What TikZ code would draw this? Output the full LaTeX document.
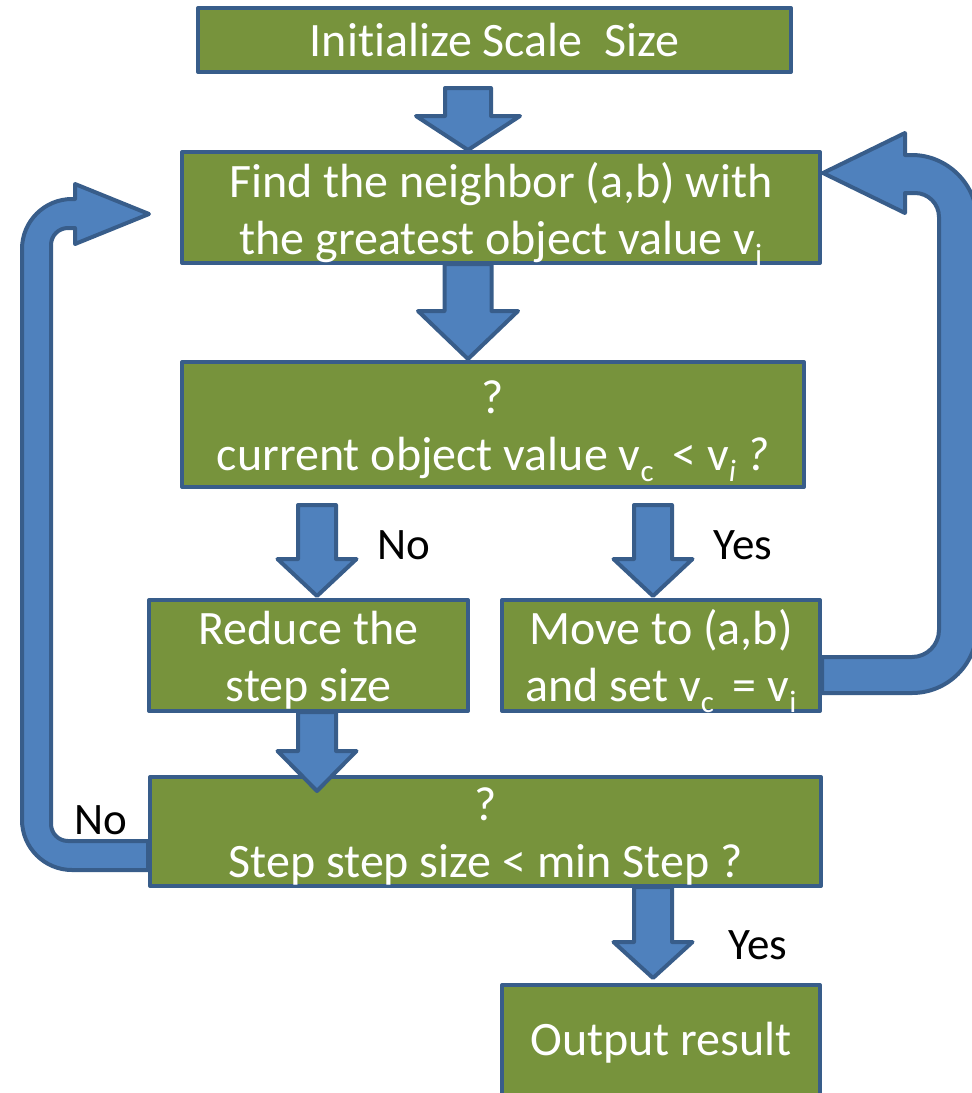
\documentclass[tikz,border=0pt]{standalone}
\usepackage{fontspec}
\setmainfont{Carlito}[Ligatures=NoCommon]
\usetikzlibrary{calc}
\definecolor{boxgreen}{HTML}{77933C}
\definecolor{edgeblue}{HTML}{385D8A}
\definecolor{arrowblue}{HTML}{4F81BD}
\newcommand\sbs[1]{\raisebox{-11pt}[0pt][0pt]{\fontsize{31}{31}\selectfont #1}}
\newcommand\dn[1]{\raisebox{-5pt}[\height][\depth]{#1}}
% block arrow pointing down: #1 top point, #2 tip point, #3 half shaft, #4 half head, #5 head length
\newcommand\blockdown[5]{%
  \path[blockarrow] let \p1=#1, \p2=#2 in
    (\x1-#3pt,\y1) -- (\x1+#3pt,\y1) -- (\x1+#3pt,\y2+#5pt) -- (\x1+#4pt,\y2+#5pt)
    -- (\x1,\y2) -- (\x1-#4pt,\y2+#5pt) -- (\x1-#3pt,\y2+#5pt) -- cycle;}
\begin{document}
\begin{tikzpicture}[x=1pt,y=-1pt,
  box/.style={draw=edgeblue, fill=boxgreen, line width=4pt, line join=round,
    text=white, align=center, inner sep=0pt,
    font=\fontsize{48}{57}\selectfont},
  blockarrow/.style={draw=edgeblue, fill=arrowblue, line width=4pt, line join=round},
  lab/.style={font=\fontsize{45}{57}\selectfont, text=black, inner sep=0pt}]
\useasboundingbox (0,0) rectangle (972,1093);

% boxes
\node[box, minimum width=593pt, minimum height=64pt] (b1) at (494.5,40) {Initialize Scale\ \ Size};
\node[box, minimum width=638pt, minimum height=111pt] (b2) at (501,207.5)
  {\dn{Find the neighbor (a,b) with}\\\dn{the greatest object value v\sbs{i}}};
\node[box, minimum width=622pt, minimum height=125pt] (b3) at (493,424.5)
  {\dn{?}\\\dn{current object value v\sbs{c} \,< v\sbs{\itshape i} \textit{?}}};
\node[box, minimum width=319pt, minimum height=111pt] (b4) at (308.5,655.5)
  {\dn{Reduce the}\\\dn{step size}};
\node[box, minimum width=318pt, minimum height=111pt] (b5) at (661,655.5)
  {Move to (a,b)\\and set v\sbs{c} \,= v\sbs{i}};
\node[box, minimum width=671pt, minimum height=109pt] (b6) at (485.5,831.5)
  {\dn{?}\\\dn{Step step size < min Step ?}};
\node[box, minimum width=318pt, minimum height=116pt] (b7) at (661,1043) {Output result};

% arrow end points
\coordinate (a1s) at (468,88);   \coordinate (a1e) at (468,150);
\coordinate (a2s) at (468,264);  \coordinate (a2e) at (468,359);
\coordinate (a3s) at (317,505);  \coordinate (a3e) at (317,596);
\coordinate (a4s) at (653,505);  \coordinate (a4e) at (653,596);
\coordinate (a5s) at (317,712);  \coordinate (a5e) at (317,791);
\coordinate (a6s) at (653,887);  \coordinate (a6e) at (653,978);

\blockdown{(a1s)}{(a1e)}{23}{52}{34}
\blockdown{(a2s)}{(a2e)}{23.5}{50}{48}
\blockdown{(a3s)}{(a3e)}{19}{39.5}{37}
\blockdown{(a4s)}{(a4e)}{19}{39.5}{37}
\blockdown{(a5s)}{(a5e)}{19}{39.5}{40}
\blockdown{(a6s)}{(a6e)}{19}{39.5}{36}

% left loop: b6 -> b2
\path[blockarrow] (b6.west |- 0,841) -- (68,841)
  .. controls (58.6,841) and (51,833.4) .. (51,824)
  -- (51,245)
  .. controls (51,235.6) and (58.6,228) .. (68,228)
  -- (75,228) -- (75,244) -- (149,214) -- (75,184) -- (75,199) -- (72,199)
  .. controls (44.4,199) and (22,221.4) .. (22,249)
  -- (22,820)
  .. controls (22,847.6) and (44.4,870) .. (72,870)
  -- (b6.west |- 0,870) -- cycle;

% right loop: b5 -> b2
\path[blockarrow] (b5.east |- 0,657) -- (912,657)
  .. controls (926.9,657) and (939,644.9) .. (939,630)
  -- (939,217)
  .. controls (939,203.8) and (928.2,193) .. (915,193)
  -- (905,193) -- (905,213) -- (823,173) -- (905,133) -- (905,155) -- (912,155)
  .. controls (947,155) and (977,184) .. (977,220)
  -- (977,628)
  .. controls (977,663.9) and (947.9,693) .. (912,693)
  -- (b5.east |- 0,693) -- cycle;

% labels
\node[lab] (lno1) at (404,545) {No};
\node[lab] (lyes1) at (743,545) {Yes};
\node[lab] (lyes2) at (758,945) {Yes};
\node[lab] (lno2) at (101,820) {No};
\end{tikzpicture}
\end{document}
